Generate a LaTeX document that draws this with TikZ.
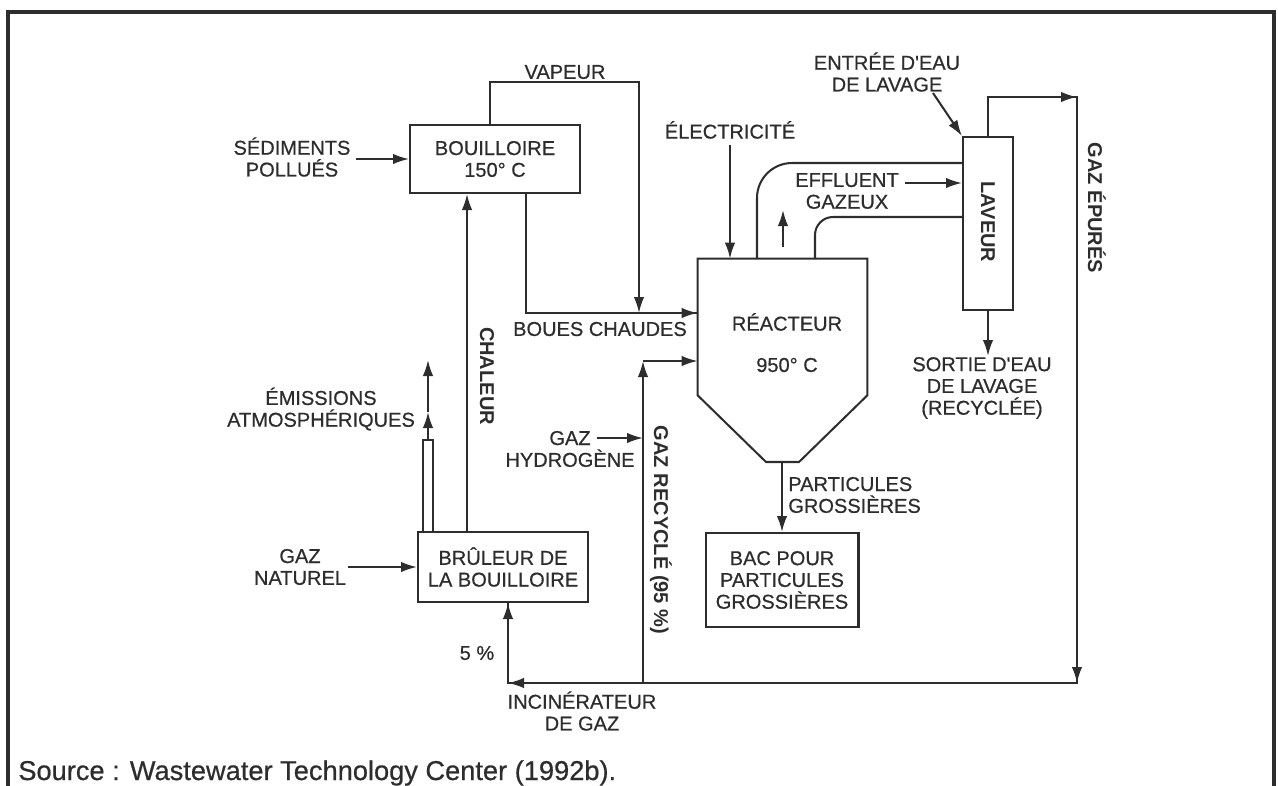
\documentclass[tikz,border=0pt]{standalone}
\usepackage{fontspec}
\setmainfont{Liberation Sans}
\newfontfamily\lblfont{Liberation Sans}[FakeBold=0.6]
\usetikzlibrary{arrows.meta,calc}
\definecolor{ink}{RGB}{45,45,45}
\begin{document}
\begin{tikzpicture}[x=0.02cm,y=-0.02cm,
  every node/.style={text=ink, font=\lblfont\fontsize{11.4}{12.4}\selectfont, inner sep=0pt, align=center},
  rlbl/.style={font=\fontsize{11.4}{12.4}\selectfont\bfseries, rotate=-90},
  box/.style={draw=ink, line width=1.15pt},
  flow/.style={draw=ink, line width=1.15pt, line join=miter},
  arr/.style={flow, -{Latex[length=0.32cm,width=0.21cm]}},
]
\useasboundingbox (0,0) rectangle (1278,785);
% frame
\draw[ink, line width=1.8pt] (8,800) -- (8,12) -- (1274,12) -- (1274,800);

% boxes
\node[box, minimum width=3.4cm, minimum height=1.36cm] (boil) at (495,159) {BOUILLOIRE\\150° C};
\node[box, minimum width=3.4cm, minimum height=1.4cm] (burn) at (503,567) {BRÛLEUR DE\\LA BOUILLOIRE};
\node[box, minimum width=3.06cm, minimum height=1.88cm] (bac) at (782,580) {BAC POUR\\PARTICULES\\GROSSIÈRES};
\node[box, minimum width=1cm, minimum height=3.46cm] (lav) at (988,223.5) {};
\node[rlbl] (lavtxt) at (988,222) {LAVEUR};

% reactor
\node[minimum width=3.38cm, minimum height=2.72cm] (reac) at (782.5,327) {};
\coordinate (rbl) at (766,462);
\coordinate (rbr) at (799,462);
\coordinate (rbot) at (782,462);
\draw[flow] (reac.north west) -- (reac.north east) -- (reac.south east) -- (rbr) -- (rbl) -- (reac.south west) -- cycle;
\node (reactxt) at (787,322) {RÉACTEUR};
\node (reactemp) at (787,365) {950° C};

% sediments in
\node (sed) at (292,157) {SÉDIMENTS\\POLLUÉS};
\draw[arr] ($(sed.east |- boil.west)+(5,0)$) -- (boil.west);

% vapeur and boues chaudes
\coordinate (mix) at (639,313);
\node (vap) at (565,72) {VAPEUR};
\draw[flow] ($(boil.south)+(31,0)$) |- (reac.west |- mix);
\draw[arr] ($(boil.north)+(-5,0)$) -- ++(0,-42) -| (mix);
\draw[arr] ($(mix)+(20,0)$) -- (reac.west |- mix);
\node (boues) at (600,329) {BOUES CHAUDES};

% chaleur
\draw[arr] (burn.north -| 467,0) -- (boil.south -| 467,0);
\node[rlbl] (chal) at (487,376) {CHALEUR};

% stack / emissions
\coordinate (stk) at (428,440);
\coordinate (stk2) at (428,412);
\coordinate (emis) at (428,360);
\draw[flow] ($(burn.north)+(-80,0)$) -- (423,440) -- (433,440) -- ($(burn.north)+(-70,0)$);
\draw[arr] (stk) -- (stk2);
\draw[arr] (stk2) -- (emis);
\node (emtxt) at (321,409) {ÉMISSIONS\\ATMOSPHÉRIQUES};

% gaz naturel
\node (gn) at (300,567) {GAZ\\NATUREL};
\draw[arr] ($(gn.east |- burn.west)+(2,0)$) -- (burn.west);

% electricity
\node (elec) at (730,130) {ÉLECTRICITÉ};
\draw[arr] ($(elec.south)+(0,6)$) -- (elec.south |- reac.north);

% effluent pipe
\coordinate (po) at (757,259);
\coordinate (pi) at (815,259);
\draw[flow, rounded corners=0.7cm] (po) |- (lav.west |- 0,163);
\draw[flow, rounded corners=0.36cm] (pi) |- (lav.west |- 0,217);
\draw[arr] (783,247) -- (783,210);
\node (eff) at (847,191) {EFFLUENT\\GAZEUX};
\draw[arr] (905,183) -- (lav.west |- 0,183);

% wash water
\node (went) at (887,72) {ENTRÉE D'EAU\\DE LAVAGE};
\draw[arr] (933,93) -- (lav.north west);
\draw[arr] (lav.south) -- ++(0,45) coordinate (wout);
\node (sort) at (982,388) {SORTIE D'EAU\\DE LAVAGE\\(RECYCLÉE)};

% clean gas loop
\coordinate (ge1) at (988,97);
\coordinate (ge2) at (1077,97);
\coordinate (ge3) at (1077,683);
\coordinate (j5) at (508,683);
\coordinate (jr) at (643,683);
\coordinate (jc) at (643,361);
\draw[flow] (lav.north) -- (ge1) -- (ge2) -- (ge3) -- (j5) -- (j5 |- burn.south);
\draw[arr] ($(ge2)+(-30,0)$) -- (ge2);
\draw[arr] ($(ge3)+(0,-30)$) -- (ge3);
\draw[arr] ($(j5)+(30,0)$) -- (j5);
\draw[arr] ($(j5)+(0,-30)$) -- (j5 |- burn.south);
\node[rlbl] (gep) at (1097,208) {GAZ ÉPURÉS};
\node (five) at (477,653) {5 \%};
\node (inc) at (582,711) {INCINÉRATEUR\\DE GAZ};

% recycled gas
\draw[arr] (jr) -- (jc);
\draw[arr] (jc) -- (reac.west |- jc);
\node[rlbl] (grec) at (661,530) {GAZ RECYCLÉ (95 \%)};
\node (h2) at (570,449) {GAZ\\HYDROGÈNE};
\draw[arr] (597,438) -- (jr |- 0,438);

% particles
\draw[arr] (rbot) -- (bac.north);
\node[align=left, anchor=west] (part) at (788,495) {PARTICULES\\GROSSIÈRES};

% source
\node[anchor=base west, font=\lblfont\fontsize{15.5}{17}\selectfont] (src) at (18,780) {Source : Wastewater Technology Center (1992b).};
\end{tikzpicture}
\end{document}
